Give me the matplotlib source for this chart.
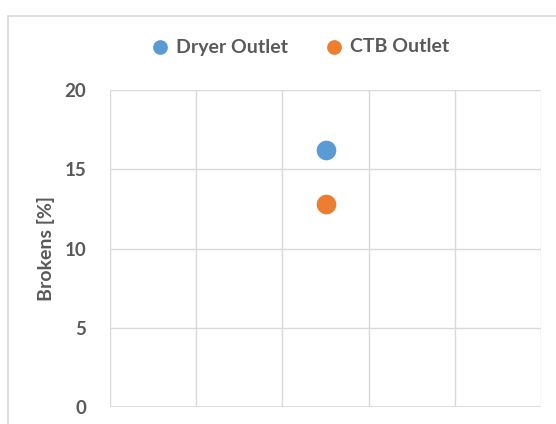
import matplotlib.pyplot as plt
from matplotlib.patches import Rectangle

series = ["Dryer Outlet", "CTB Outlet"]
x_vals = [2.5, 2.5]
brokens = [16.2, 12.8]
colors = ["#5b9bd5", "#ed7d31"]
y_ticks = [0, 5, 10, 15, 20]

plt.rcParams['font.family'] = ['Lato', 'DejaVu Sans']

fig = plt.figure(figsize=(5.56, 4.24), dpi=100)
ax = fig.add_axes([110 / 556, 1 - 407 / 424, 431 / 556, 317 / 424])

# outer chart border (cropped at right and bottom)
fig.patches.append(Rectangle((8 / 556, -0.1), 1.2, (424 - 16) / 424 + 0.1,
                             transform=fig.transFigure, fill=False,
                             edgecolor="#d9d9d9", linewidth=1.2))

for name, x, y, c in zip(series, x_vals, brokens, colors):
    ax.scatter([x], [y], s=200, color=c, label=name, zorder=3, linewidths=0)

ax.set_xlim(0, 5)
ax.set_ylim(0, 20)
ax.set_xticks(range(6))
ax.set_yticks(y_ticks)
ax.set_xticklabels([])
ax.tick_params(axis="both", length=0)
ax.tick_params(axis="y", labelsize=13.5, labelcolor="#595959", pad=17)
for lbl in ax.get_yticklabels():
    lbl.set_fontweight("bold")
ax.grid(True, color="#d9d9d9", linewidth=1)
for s in ax.spines.values():
    s.set_visible(False)
ax.axhline(0, color="#d9d9d9", linewidth=1.2, zorder=1)

ax.set_ylabel("Brokens [%]", fontsize=14, color="#595959", fontweight="bold", labelpad=7)

ax.legend(loc="center", bbox_to_anchor=(295 / 556, 1 - 47 / 424),
          bbox_transform=fig.transFigure, ncol=2, frameon=False,
          handletextpad=-0.2, columnspacing=1.4, markerscale=0.75,
          prop={"size": 14, "weight": "bold"}, labelcolor="#595959")

fig.savefig("out.png", dpi=100)
